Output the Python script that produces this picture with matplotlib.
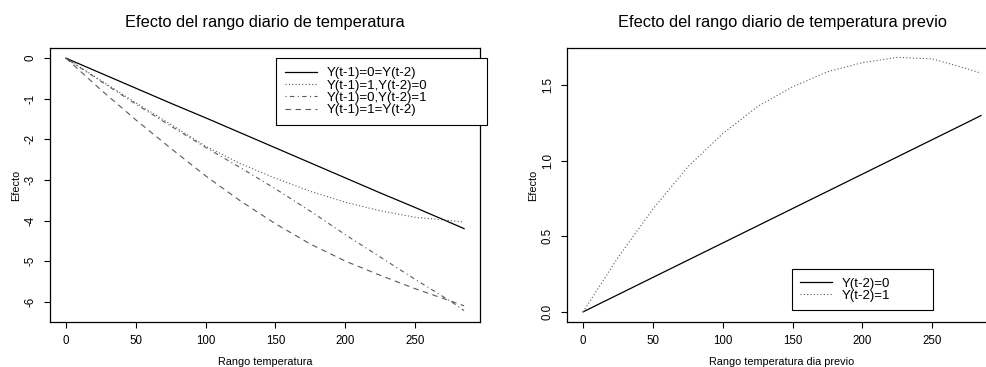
import numpy as np
import matplotlib
matplotlib.use("Agg")
import matplotlib.pyplot as plt

plt.rcParams['font.family'] = ['Liberation Sans', 'DejaVu Sans']

# rango de temperatura (eje x de ambos paneles)
rango = [0, 25, 50, 75, 100, 125, 150, 175, 200, 225, 250, 275, 285]

# panel izquierdo: efecto del rango diario
ef_00 = [0, -0.37, -0.74, -1.11, -1.47, -1.84, -2.21, -2.58, -2.95, -3.32, -3.68, -4.05, -4.20]
ef_10 = [0, -0.55, -1.10, -1.63, -2.17, -2.60, -2.96, -3.28, -3.55, -3.76, -3.92, -4.00, -4.04]
ef_01 = [0, -0.57, -1.13, -1.67, -2.20, -2.70, -3.22, -3.77, -4.35, -4.90, -5.45, -5.98, -6.22]
ef_11 = [0, -0.78, -1.52, -2.22, -2.90, -3.52, -4.08, -4.58, -5.00, -5.35, -5.68, -5.98, -6.10]
etiquetas_izq = ["Y(t-1)=0=Y(t-2)", "Y(t-1)=1,Y(t-2)=0", "Y(t-1)=0,Y(t-2)=1", "Y(t-1)=1=Y(t-2)"]

# panel derecho: efecto del rango del dia previo
prev_0 = [0, 0.114, 0.228, 0.342, 0.456, 0.570, 0.684, 0.798, 0.912, 1.026, 1.140, 1.254, 1.300]
prev_1 = [0, 0.36, 0.68, 0.96, 1.18, 1.36, 1.49, 1.59, 1.65, 1.685, 1.675, 1.61, 1.58]
etiquetas_der = ["Y(t-2)=0", "Y(t-2)=1"]

estilos = [
    dict(color="black", lw=0.9, ls="-"),
    dict(color="0.35", lw=0.8, ls=(0, (1, 2))),
    dict(color="0.35", lw=0.8, ls=(0, (1, 3, 4, 3))),
    dict(color="0.35", lw=0.8, ls=(0, (5, 4))),
]

fig = plt.figure(figsize=(9.86, 3.67), dpi=100)
ax1 = fig.add_axes([50 / 986, 45 / 367, 430 / 986, 274 / 367])
ax2 = fig.add_axes([567 / 986, 45 / 367, 430 / 986, 274 / 367])


def estilo_r(ax, titulo, xlab):
    ax.set_title(titulo, fontsize=11.8, pad=15)
    ax.set_xlabel(xlab, fontsize=7.8, va="center")
    ax.set_ylabel("Efecto", fontsize=7.8, va="center")
    ax.xaxis.set_label_coords(0.5, -0.147)
    ax.yaxis.set_label_coords(-34 / 430, 0.5)
    ax.tick_params(direction="out", length=4.5, width=0.8, labelsize=8.3, pad=5)
    for lab in ax.get_yticklabels():
        lab.set_rotation(90)
        lab.set_va("center")
    for s in ax.spines.values():
        s.set_linewidth(0.9)


# izquierda
for ys, lab, st in zip([ef_00, ef_10, ef_01, ef_11], etiquetas_izq, estilos):
    ax1.plot(rango, ys, label=lab, **st)
ax1.set_xlim(-11.4, 296.4)
ax1.set_ylim(-6.5, 0.25)
ax1.set_xticks([0, 50, 100, 150, 200, 250])
ax1.set_yticks([0, -1, -2, -3, -4, -5, -6])
ax1.set_yticklabels(["0", "-1", "-2", "-3", "-4", "-5", "-6"])
estilo_r(ax1, "Efecto del rango diario de temperatura", "Rango temperatura")
leg1 = ax1.legend(loc="upper left", bbox_to_anchor=(226 / 430, 1 - 10 / 274, 211 / 430, 0),
                  mode="expand", fontsize=9.5, frameon=True, fancybox=False,
                  edgecolor="black", framealpha=1, handlelength=2.4, handletextpad=0.75,
                  labelspacing=0.0, borderpad=0.7, borderaxespad=0)
leg1.get_frame().set_linewidth(0.8)

# derecha
ax2.plot(rango, prev_0, label=etiquetas_der[0], **estilos[0])
ax2.plot(rango, prev_1, label=etiquetas_der[1], **estilos[1])
ax2.set_xlim(-11.5, 296.4)
ax2.set_ylim(-0.067, 1.747)
ax2.set_xticks([0, 50, 100, 150, 200, 250])
ax2.set_yticks([0.0, 0.5, 1.0, 1.5])
ax2.set_yticklabels(["0.0", "0.5", "1.0", "1.5"])
estilo_r(ax2, "Efecto del rango diario de temperatura previo", "Rango temperatura dia previo")
leg2 = ax2.legend(loc="lower left", bbox_to_anchor=(225 / 430, 12 / 274, 141 / 430, 0),
                  mode="expand", fontsize=9.5, frameon=True, fancybox=False,
                  edgecolor="black", framealpha=1, handlelength=2.4, handletextpad=0.75,
                  labelspacing=0.0, borderpad=0.62, borderaxespad=0)
leg2.get_frame().set_linewidth(0.8)

fig.savefig("out.png", dpi=100)
